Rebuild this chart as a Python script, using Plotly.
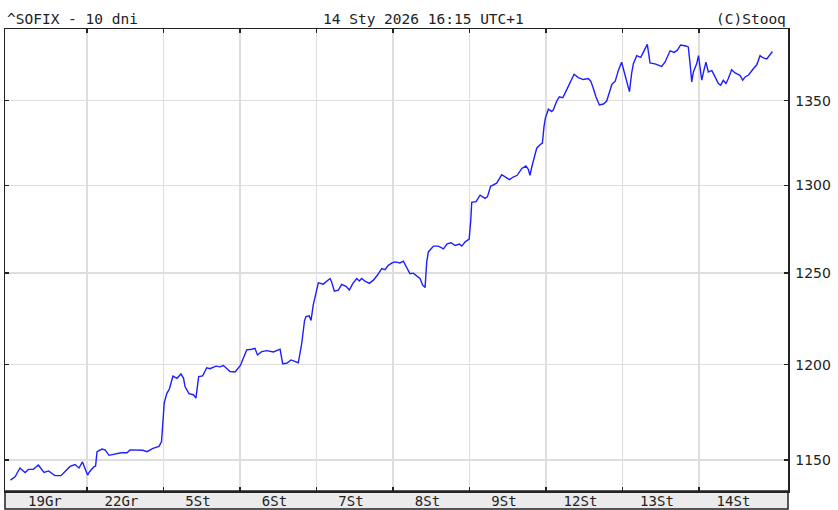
import plotly.graph_objects as go

# ---------------- data ----------------
day_labels = ["19Gr", "22Gr", "5St", "6St", "7St", "8St", "9St", "12St", "13St", "14St"]
session_len_min = 420  # trading session length in minutes

m_19gr = [0, 25, 52, 80, 99, 125, 153, 184, 209, 244, 277, 327, 354, 376, 395, 409]
p_19gr = [1139.7, 1141.4, 1145.9, 1143.6, 1145.2, 1145.2, 1147.4, 1143.6, 1144.4, 1142.0,
          1142.0, 1146.7, 1147.7, 1145.9, 1149.0, 1145.9]

m_22gr = [3, 14, 36, 47, 55, 82, 99, 121, 154, 187, 220, 236, 307, 329, 362, 395, 409, 414]
p_22gr = [1142.3, 1144.0, 1146.4, 1146.9, 1154.3, 1155.6, 1155.2, 1152.4, 1153.1, 1153.7,
          1153.7, 1155.2, 1155.0, 1154.3, 1156.0, 1157.0, 1159.4, 1166.8]

m_5st = [4, 18, 32, 52, 74, 96, 110, 118, 140, 164, 178, 193, 215, 237, 255, 288, 310, 329,
         365, 393, 415]
p_5st = [1179.7, 1184.6, 1187.0, 1193.9, 1192.7, 1195.0, 1192.7, 1188.3, 1184.6, 1184.0,
         1182.2, 1193.6, 1194.0, 1198.3, 1197.8, 1199.2, 1198.8, 1199.5, 1196.3, 1196.1, 1198.8]

m_6st = [3, 18, 37, 64, 82, 96, 119, 147, 183, 220, 234, 256, 280, 320, 339, 354, 362, 380,
         390, 402, 416]
p_6st = [1199.7, 1203.4, 1207.9, 1208.3, 1208.8, 1205.2, 1207.0, 1207.5, 1206.8, 1208.3,
         1200.5, 1200.7, 1202.5, 1201.0, 1211.5, 1223.7, 1226.0, 1226.4, 1223.9, 1232.4, 1237.9]

m_7st = [10, 37, 74, 83, 98, 120, 138, 162, 180, 199, 221, 235, 248, 266, 290, 312, 334, 358,
         376, 394, 415]
p_7st = [1244.6, 1243.9, 1247.0, 1245.1, 1240.0, 1240.6, 1243.8, 1242.7, 1240.6, 1244.2,
         1247.0, 1245.6, 1247.0, 1245.5, 1244.3, 1246.1, 1248.8, 1252.5, 1251.9, 1254.4, 1255.8]

m_8st = [11, 38, 57, 75, 93, 111, 130, 148, 163, 176, 185, 194, 222, 249, 277, 297, 319, 341,
         365, 378, 396, 418]
p_8st = [1256.3, 1255.7, 1256.7, 1253.1, 1249.7, 1250.0, 1248.7, 1247.0, 1243.3, 1242.1,
         1256.3, 1261.9, 1265.2, 1265.2, 1263.6, 1266.5, 1267.1, 1265.5, 1266.3, 1265.2,
         1267.6, 1269.1]

m_9st = [7, 12, 36, 58, 85, 98, 116, 149, 177, 195, 219, 240, 262, 287, 310, 323, 332, 342,
         354, 369, 387, 400, 409, 417]
p_9st = [1280.0, 1290.1, 1290.5, 1294.3, 1292.4, 1293.3, 1299.4, 1301.2, 1306.2, 1304.8,
         1303.3, 1304.8, 1305.8, 1309.8, 1311.2, 1309.2, 1305.8, 1310.8, 1315.8, 1321.7,
         1323.7, 1324.7, 1334.6, 1339.8]

m_12st = [13, 31, 40, 59, 73, 92, 104, 122, 154, 177, 205, 232, 245, 260, 274, 293, 315, 333,
          349, 362, 380, 397, 415]
p_12st = [1344.9, 1343.5, 1344.5, 1349.8, 1352.4, 1351.8, 1354.4, 1358.4, 1366.0, 1364.0,
          1362.8, 1363.4, 1362.0, 1357.4, 1352.4, 1347.4, 1348.0, 1349.8, 1355.2, 1360.0,
          1361.8, 1368.4, 1373.4]

m_13st = [8, 23, 38, 51, 60, 78, 100, 114, 136, 151, 178, 215, 233, 261, 283, 301, 319, 348,
          361, 371, 380, 389, 407, 417]
p_13st = [1367.4, 1361.4, 1355.5, 1367.4, 1372.6, 1377.4, 1376.4, 1379.4, 1384.4, 1373.0,
          1372.4, 1370.8, 1373.4, 1380.4, 1379.4, 1380.8, 1384.0, 1383.4, 1382.8, 1372.4,
          1361.4, 1367.4, 1372.4, 1377.4]

m_14st = [5, 15, 27, 38, 51, 70, 88, 106, 119, 133, 148, 161, 179, 198, 225, 240, 253, 271,
          298, 317, 335, 353, 372, 386, 403]
p_14st = [1370.4, 1362.4, 1368.4, 1373.4, 1367.4, 1368.4, 1364.4, 1360.4, 1359.4, 1362.4,
          1360.4, 1363.4, 1368.8, 1366.8, 1365.4, 1362.4, 1364.4, 1365.4, 1369.4, 1371.8,
          1377.4, 1376.0, 1375.4, 1377.4, 1380.0]

y_ticks = [1150, 1200, 1250, 1300, 1350]

title_left = "^SOFIX - 10 dni"
title_mid = "14 Sty 2026 16:15 UTC+1"
title_right = "(C)Stooq"

# ---------------- build series ----------------
day_minutes = [m_19gr, m_22gr, m_5st, m_6st, m_7st, m_8st, m_9st, m_12st, m_13st, m_14st]
day_prices = [p_19gr, p_22gr, p_5st, p_6st, p_7st, p_8st, p_9st, p_12st, p_13st, p_14st]

xs, ys = [], []
for k, (mins, prices) in enumerate(zip(day_minutes, day_prices)):
    xs += [k + m / session_len_min for m in mins]
    ys += prices

x_min, x_max = -0.072, 10.163
boundaries = list(range(1, len(day_labels)))
label_pos = [max(k, x_min) + 0.45 for k in range(len(day_labels))]

W, H = 838, 510
ML, MR, MT, MB = 5, 50, 29, 19
plot_h = H - MT - MB

MONO = "DejaVu Sans Mono"
TXT = "#222222"

fig = go.Figure()
fig.add_trace(go.Scatter(x=xs, y=ys, mode="lines",
                         line=dict(color="rgb(30,30,255)", width=1.4),
                         hoverinfo="skip", showlegend=False))
# invisible trace to anchor the label axis
fig.add_trace(go.Scatter(x=[label_pos[0]], y=[y_ticks[0]], xaxis="x2", mode="markers",
                         marker=dict(opacity=0), hoverinfo="skip", showlegend=False))

fig.update_layout(
    width=W, height=H,
    margin=dict(l=ML, r=MR, t=MT, b=MB, pad=0, autoexpand=False),
    paper_bgcolor="white", plot_bgcolor="white",
    showlegend=False,
    xaxis=dict(
        range=[x_min, x_max], tickmode="array", tickvals=boundaries,
        showticklabels=False, ticks="inside", ticklen=4, tickcolor="#222",
        tickwidth=1.5, automargin=False,
        showgrid=True, gridcolor="#dedede", gridwidth=1.5,
        showline=True, linecolor="#222", linewidth=1.5, mirror="ticks",
        zeroline=False, fixedrange=True,
    ),
    xaxis2=dict(
        overlaying="x", side="bottom", anchor="y", automargin=False,
        range=[x_min, x_max], tickmode="array", tickvals=label_pos, ticktext=day_labels,
        ticks="", showgrid=False, showline=False, zeroline=False,
        tickfont=dict(family=MONO, size=14, color=TXT),
        ticklabelstandoff=0,
    ),
    yaxis=dict(
        type="log", side="right", automargin=False,
        range=[3.054689, 3.144232],
        tickmode="array", tickvals=y_ticks, ticktext=[str(v) for v in y_ticks],
        ticks="inside", ticklen=4, tickcolor="#222", tickwidth=1.5,
        showgrid=True, gridcolor="#dedede", gridwidth=1.5,
        showline=True, linecolor="#222", linewidth=1.5, mirror="ticks",
        zeroline=False, fixedrange=True,
        tickfont=dict(family="DejaVu Sans", size=14, color=TXT),
        ticklabelstandoff=3,
    ),
)

band_h = 18 / plot_h
fig.add_shape(type="rect", xref="paper", yref="paper", x0=0, x1=1, y0=-band_h, y1=0,
              fillcolor="#ebebeb", line=dict(color="#222", width=1.5), layer="below")

for text, xa, xanchor in [(title_left, 0, "left"), (title_mid, 0.535, "center"),
                          (title_right, 1, "right")]:
    fig.add_annotation(text=text, xref="paper", yref="paper", x=xa, y=1,
                       xanchor=xanchor, yanchor="bottom", yshift=0, showarrow=False,
                       font=dict(family=MONO, size=14.5, color=TXT))

fig.write_html("out.html", config={"displayModeBar": False, "staticPlot": True},
               post_script="document.body.style.margin='0';document.body.style.overflow='hidden';")
